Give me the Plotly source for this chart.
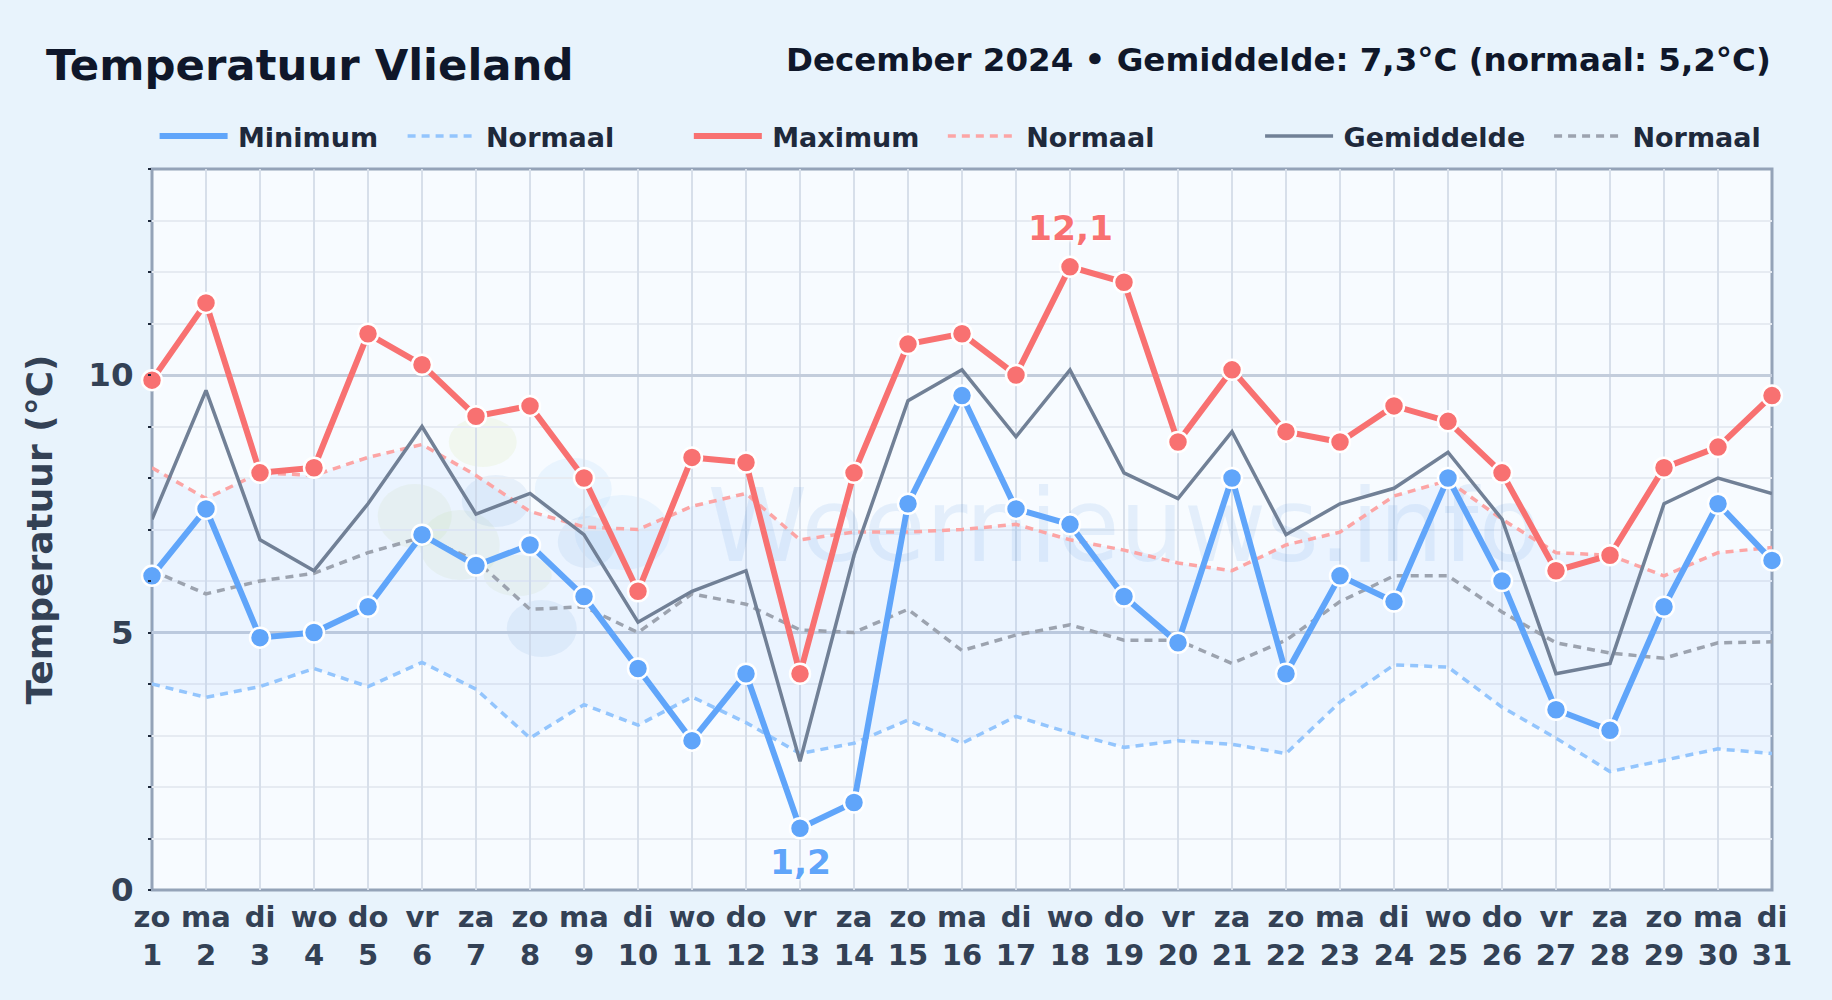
import plotly.graph_objects as go

days = list(range(1, 32))
weekdays = ["zo","ma","di","wo","do","vr","za","zo","ma","di","wo","do","vr","za","zo","ma","di","wo","do","vr","za","zo","ma","di","wo","do","vr","za","zo","ma","di"]
t_max = [9.9,11.4,8.1,8.2,10.8,10.2,9.2,9.4,8.0,5.8,8.4,8.3,4.2,8.1,10.6,10.8,10.0,12.1,11.8,8.7,10.1,8.9,8.7,9.4,9.1,8.1,6.2,6.5,8.2,8.6,9.6]
t_min = [6.1,7.4,4.9,5.0,5.5,6.9,6.3,6.7,5.7,4.3,2.9,4.2,1.2,1.7,7.5,9.6,7.4,7.1,5.7,4.8,8.0,4.2,6.1,5.6,8.0,6.0,3.5,3.1,5.5,7.5,6.4]
t_mean = [7.2,9.7,6.8,6.2,7.5,9.0,7.3,7.7,6.9,5.2,5.8,6.2,2.5,6.5,9.5,10.1,8.8,10.1,8.1,7.6,8.9,6.9,7.5,7.8,8.5,7.2,4.2,4.4,7.5,8.0,7.7]
norm_min = [4.0,3.74,3.95,4.3,3.95,4.42,3.9,2.95,3.6,3.2,3.75,3.25,2.65,2.85,3.3,2.85,3.37,3.05,2.77,2.9,2.83,2.65,3.65,4.37,4.33,3.55,2.95,2.3,2.52,2.74,2.65]
norm_max = [8.2,7.6,8.1,8.05,8.4,8.65,8.05,7.35,7.05,7.0,7.45,7.7,6.8,6.95,6.95,7.0,7.1,6.8,6.6,6.35,6.2,6.7,6.95,7.65,7.95,7.2,6.55,6.5,6.1,6.55,6.65]
norm_mean = [6.2,5.75,6.0,6.15,6.55,6.85,6.4,5.45,5.5,5.0,5.75,5.55,5.05,5.0,5.45,4.65,4.95,5.15,4.85,4.85,4.4,4.85,5.6,6.1,6.1,5.4,4.8,4.6,4.5,4.8,4.82]

FONT = "DejaVu Sans"
BLUE, RED, GREY = "#60a5fa", "#f87171", "#718096"
DASH = "8px,6px"
L, R, T, B = 152.4, 1771.7, 169.0, 890.0

def px(x):
    return (x - L) / (R - L)
def py(y):
    return (B - y) / (B - T)

def blob(x0, y0, x1, y1, color):
    return dict(type="circle", xref="paper", yref="paper", layer="below",
                x0=px(x0), x1=px(x1), y0=py(y1), y1=py(y0),
                fillcolor=color, line=dict(width=0))

logo_green = "rgba(190,215,150,0.13)"
logo_blue = "rgba(96,150,210,0.10)"
logo_sky = "rgba(120,190,245,0.10)"
shapes = [
    blob(449, 417, 517, 467, "rgba(205,225,140,0.14)"),
    blob(378, 484, 452, 548, logo_green),
    blob(420, 510, 500, 580, logo_green),
    blob(484, 555, 552, 596, logo_green),
    blob(535, 458, 612, 520, logo_sky),
    blob(575, 495, 670, 570, logo_sky),
    blob(462, 475, 530, 527, logo_blue),
    blob(558, 516, 616, 568, logo_blue),
    blob(507, 600, 577, 657, logo_blue),
    dict(type="rect", xref="paper", yref="paper", layer="below", x0=0, x1=1, y0=0, y1=1,
         line=dict(color="#94a3b8", width=3), fillcolor="rgba(0,0,0,0)"),
]

fig = go.Figure()

fig.add_trace(go.Scatter(x=[19], y=[6.87], mode="text", text=["Weernieuws.info"], showlegend=False,
                         hoverinfo="skip", cliponaxis=True,
                         textfont=dict(family=FONT, size=101, color="rgba(70,140,215,0.10)",
                                       shadow="0 0 2px rgba(70,140,215,0.10)")))

fig.add_trace(go.Scatter(x=days, y=norm_min, mode="lines", showlegend=False, hoverinfo="skip",
                         line=dict(width=0)))
fig.add_trace(go.Scatter(x=days, y=norm_max, mode="lines", showlegend=False, hoverinfo="skip",
                         fill="tonexty", fillcolor="rgba(96,165,250,0.08)", line=dict(width=0)))

fig.add_trace(go.Scatter(x=days, y=norm_min, mode="lines", name="\u2009Normaal", legend="legend",
                         legendrank=2, line=dict(color="#93c5fd", width=3.5, dash=DASH)))
fig.add_trace(go.Scatter(x=days, y=norm_max, mode="lines", name="\u2009Normaal", legend="legend2",
                         legendrank=2, line=dict(color="#fca5a5", width=3.5, dash=DASH)))
fig.add_trace(go.Scatter(x=days, y=norm_mean, mode="lines", name="\u2009Normaal", legend="legend3",
                         legendrank=2, line=dict(color="#9ca3af", width=3.5, dash=DASH)))
fig.add_trace(go.Scatter(x=days, y=t_mean, mode="lines", name="\u2009Gemiddelde", legend="legend3",
                         legendrank=1, line=dict(color=GREY, width=3.5)))
fig.add_trace(go.Scatter(x=days, y=t_min, mode="lines", name="\u2009Minimum", legend="legend",
                         legendrank=1, line=dict(color=BLUE, width=6)))
fig.add_trace(go.Scatter(x=days, y=t_max, mode="lines", name="\u2009Maximum", legend="legend2",
                         legendrank=1, line=dict(color=RED, width=6)))
for values, color in ((t_min, BLUE), (t_max, RED)):
    fig.add_trace(go.Scatter(x=days, y=values, mode="markers", showlegend=False, cliponaxis=False,
                             marker=dict(color=color, size=20, line=dict(color="white", width=2.5))))

halo = "0 0 3px #fff, 0 0 3px #fff, 0 0 5px #fff"
top = t_max.index(max(t_max))
low = t_min.index(min(t_min))
annotations = [
    dict(x=days[top], y=t_max[top], yshift=39, text=f"{t_max[top]:.1f}".replace(".", ","), showarrow=False,
         font=dict(family=FONT, size=34.5, weight="bold", color=RED, shadow=halo)),
    dict(x=days[low], y=t_min[low], yshift=-34, text=f"{t_min[low]:.1f}".replace(".", ","), showarrow=False,
         font=dict(family=FONT, size=34.5, weight="bold", color=BLUE, shadow=halo)),
    dict(xref="paper", yref="paper", x=px(44), y=py(64.5), xanchor="left", yanchor="middle", showarrow=False,
         text="Temperatuur Vlieland", font=dict(family=FONT, size=43.4, weight="bold", color="#0f172a")),
    dict(xref="paper", yref="paper", x=px(1773), y=py(59.5), xanchor="right", yanchor="middle", showarrow=False,
         text="December 2024 • Gemiddelde: 7,3°C (normaal: 5,2°C)",
         font=dict(family=FONT, size=32.5, weight="bold", color="#0f172a")),
]

def legend_at(x_left, entry):
    return dict(orientation="h", x=px(x_left), xanchor="left", y=py(136.5), yanchor="middle",
                traceorder="normal",
                bgcolor="rgba(0,0,0,0)", itemwidth=68, entrywidth=entry, entrywidthmode="pixels",
                font=dict(family=FONT, size=27, weight="bold", color="#1e293b"), itemclick=False, itemdoubleclick=False)

fig.update_layout(
    width=1832, height=1000,
    margin=dict(l=L, r=1832 - R, t=T, b=1000 - B, pad=0, autoexpand=False),
    paper_bgcolor="#e8f3fc", plot_bgcolor="#f7fbff",
    shapes=shapes, annotations=annotations,
    hovermode=False,
    legend=legend_at(155, 165),
    legend2=legend_at(689, 171),
    legend3=legend_at(1260, 206),
    xaxis=dict(range=[1, 31], tickmode="array", tickvals=days,
               ticktext=[f"{w}<br>{d}" for w, d in zip(weekdays, days)],
               tickfont=dict(family=FONT, size=29, weight="bold", color="#334155"),
               showgrid=True, gridcolor="#d7dfea", gridwidth=1.6, zeroline=False,
               showline=False, ticks="", tickangle=0, ticklabelstandoff=7),
    yaxis=dict(range=[0, 14], tickmode="array", tickvals=[0, 5, 10], ticktext=["0", "5", "10"],
               tickfont=dict(family=FONT, size=32.5, weight="bold", color="#334155"),
               ticklabelstandoff=8,
               title=dict(text="Temperatuur (°C)", standoff=24,
                          font=dict(family=FONT, size=36, weight="bold", color="#334155")),
               showgrid=True, gridcolor="#c3cddc", gridwidth=2.5, zeroline=False,
               showline=False,
               ticks="outside", ticklen=3, tickwidth=1.5, tickcolor="#1e293b",
               minor=dict(dtick=1, showgrid=True, gridcolor="#e6ebf2", gridwidth=2,
                          ticks="outside", ticklen=3, tickwidth=1.5, tickcolor="#1e293b")),
)

fig.write_html("out.html", config={"displayModeBar": False},
               post_script="document.body.style.margin='0';document.body.style.background='#e8f3fc';")
